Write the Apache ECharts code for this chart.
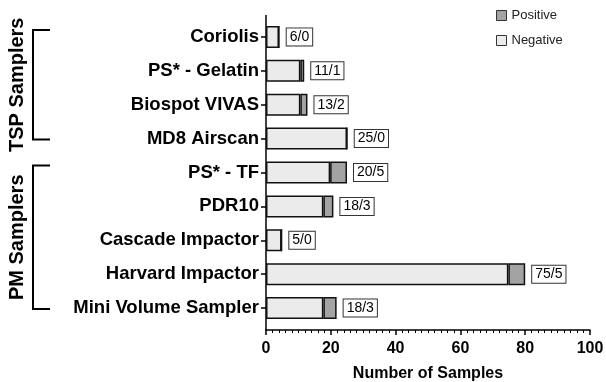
<!DOCTYPE html>
<html>
<head>
<meta charset="utf-8">
<script src="https://cdn.jsdelivr.net/npm/echarts@6/dist/echarts.min.js"></script>
<style>
  html, body { margin: 0; padding: 0; background: #fff; }
  #chart { width: 606px; height: 382px; }
</style>
</head>
<body>
<div id="chart"></div>
<script>
const samplers = ['Coriolis', 'PS* - Gelatin', 'Biospot VIVAS', 'MD8 Airscan', 'PS* - TF',
  'PDR10', 'Cascade Impactor', 'Harvard Impactor', 'Mini Volume Sampler'];
const negative = [4, 10.6, 10.6, 25, 19.8, 17.7, 4.8, 74.8, 17.7];
const positive = [0, 1.2, 2.2, 0, 5.2, 3.1, 0, 5.2, 4.1];
const countLabels = ['6/0', '11/1', '13/2', '25/0', '20/5', '18/3', '5/0', '75/5', '18/3'];
const groups = [
  { name: 'TSP Samplers', from: 'Coriolis', to: 'MD8 Airscan' },
  { name: 'PM Samplers', from: 'PS* - TF', to: 'Mini Volume Sampler' }
];

const font = 'Liberation Sans, Arial, sans-serif';
const chart = echarts.init(document.getElementById('chart'), null, { renderer: 'canvas' });

const option = {
  animation: false,
  textStyle: { fontFamily: font },
  legend: {
    data: [{ name: 'Positive', icon: 'rect' }, { name: 'Negative', icon: 'rect' }],
    orient: 'vertical',
    left: 491,
    top: 4,
    itemWidth: 10,
    itemHeight: 10,
    itemGap: 12,
    itemStyle: { borderWidth: 1, borderColor: '#333' },
    textStyle: { fontSize: 13, color: '#222', fontFamily: font }
  },
  grid: { left: 266, right: 16, top: 20, height: 305, outerBoundsMode: 'none' },
  xAxis: {
    type: 'value',
    min: 0,
    max: 100,
    interval: 20,
    offset: 5,
    name: 'Number of Samples',
    nameLocation: 'middle',
    nameGap: 36,
    nameTextStyle: { fontSize: 16, fontWeight: 'bold', color: '#000', fontFamily: font },
    axisLine: { show: true, lineStyle: { color: '#000', width: 1.5 } },
    axisTick: { show: true, length: 5, lineStyle: { color: '#000', width: 1.5 } },
    minorTick: { show: true, splitNumber: 10, length: 3, lineStyle: { color: '#000', width: 1 } },
    axisLabel: { fontSize: 16, fontWeight: 'bold', color: '#000', margin: 11, fontFamily: font },
    splitLine: { show: false }
  },
  yAxis: {
    type: 'category',
    data: samplers,
    inverse: true,
    axisLine: { show: false },
    axisTick: { show: true, alignWithLabel: true, length: 5, lineStyle: { color: '#000', width: 1.5 } },
    axisLabel: { fontSize: 18.5, fontWeight: 'bold', color: '#000', margin: 7, fontFamily: font }
  },
  series: [
    {
      name: 'Negative',
      type: 'bar',
      stack: 'total',
      data: negative,
      barWidth: 22,
      itemStyle: { color: '#ebebeb', borderColor: '#111', borderWidth: 1.5 }
    },
    {
      name: 'Positive',
      type: 'bar',
      stack: 'total',
      data: positive,
      barWidth: 22,
      itemStyle: { color: '#a3a3a3', borderColor: '#111', borderWidth: 1.5 },
      label: {
        show: true,
        position: 'right',
        distance: 7,
        formatter: p => countLabels[p.dataIndex],
        fontSize: 14,
        color: '#000',
        fontFamily: font,
        backgroundColor: '#fff',
        borderColor: '#333',
        borderWidth: 1,
        padding: [2, 3, 1, 3]
      }
    }
  ]
};

chart.setOption(option);

// y axis line spans past the outer bands; brackets mark sampler groups
const graphics = [{
  type: 'line',
  shape: { x1: 266, y1: 15, x2: 266, y2: 331 },
  style: { stroke: '#000', lineWidth: 1.5 }
}];
groups.forEach(g => {
  const y1 = chart.convertToPixel({ yAxisIndex: 0 }, g.from) - 7;
  const y2 = chart.convertToPixel({ yAxisIndex: 0 }, g.to) + 1;
  graphics.push({
    type: 'polyline',
    shape: { points: [[50, y1], [33, y1], [33, y2], [50, y2]] },
    style: { stroke: '#000', lineWidth: 2, fill: null }
  });
  graphics.push({
    type: 'text',
    x: 17,
    y: (y1 + y2) / 2,
    rotation: Math.PI / 2,
    style: {
      text: g.name,
      font: 'bold 20px ' + font,
      fill: '#000',
      align: 'center',
      verticalAlign: 'middle'
    }
  });
});
chart.setOption({ graphic: graphics });

window.addEventListener('resize', function () {
  chart.resize();
});
</script>
</body>
</html>
